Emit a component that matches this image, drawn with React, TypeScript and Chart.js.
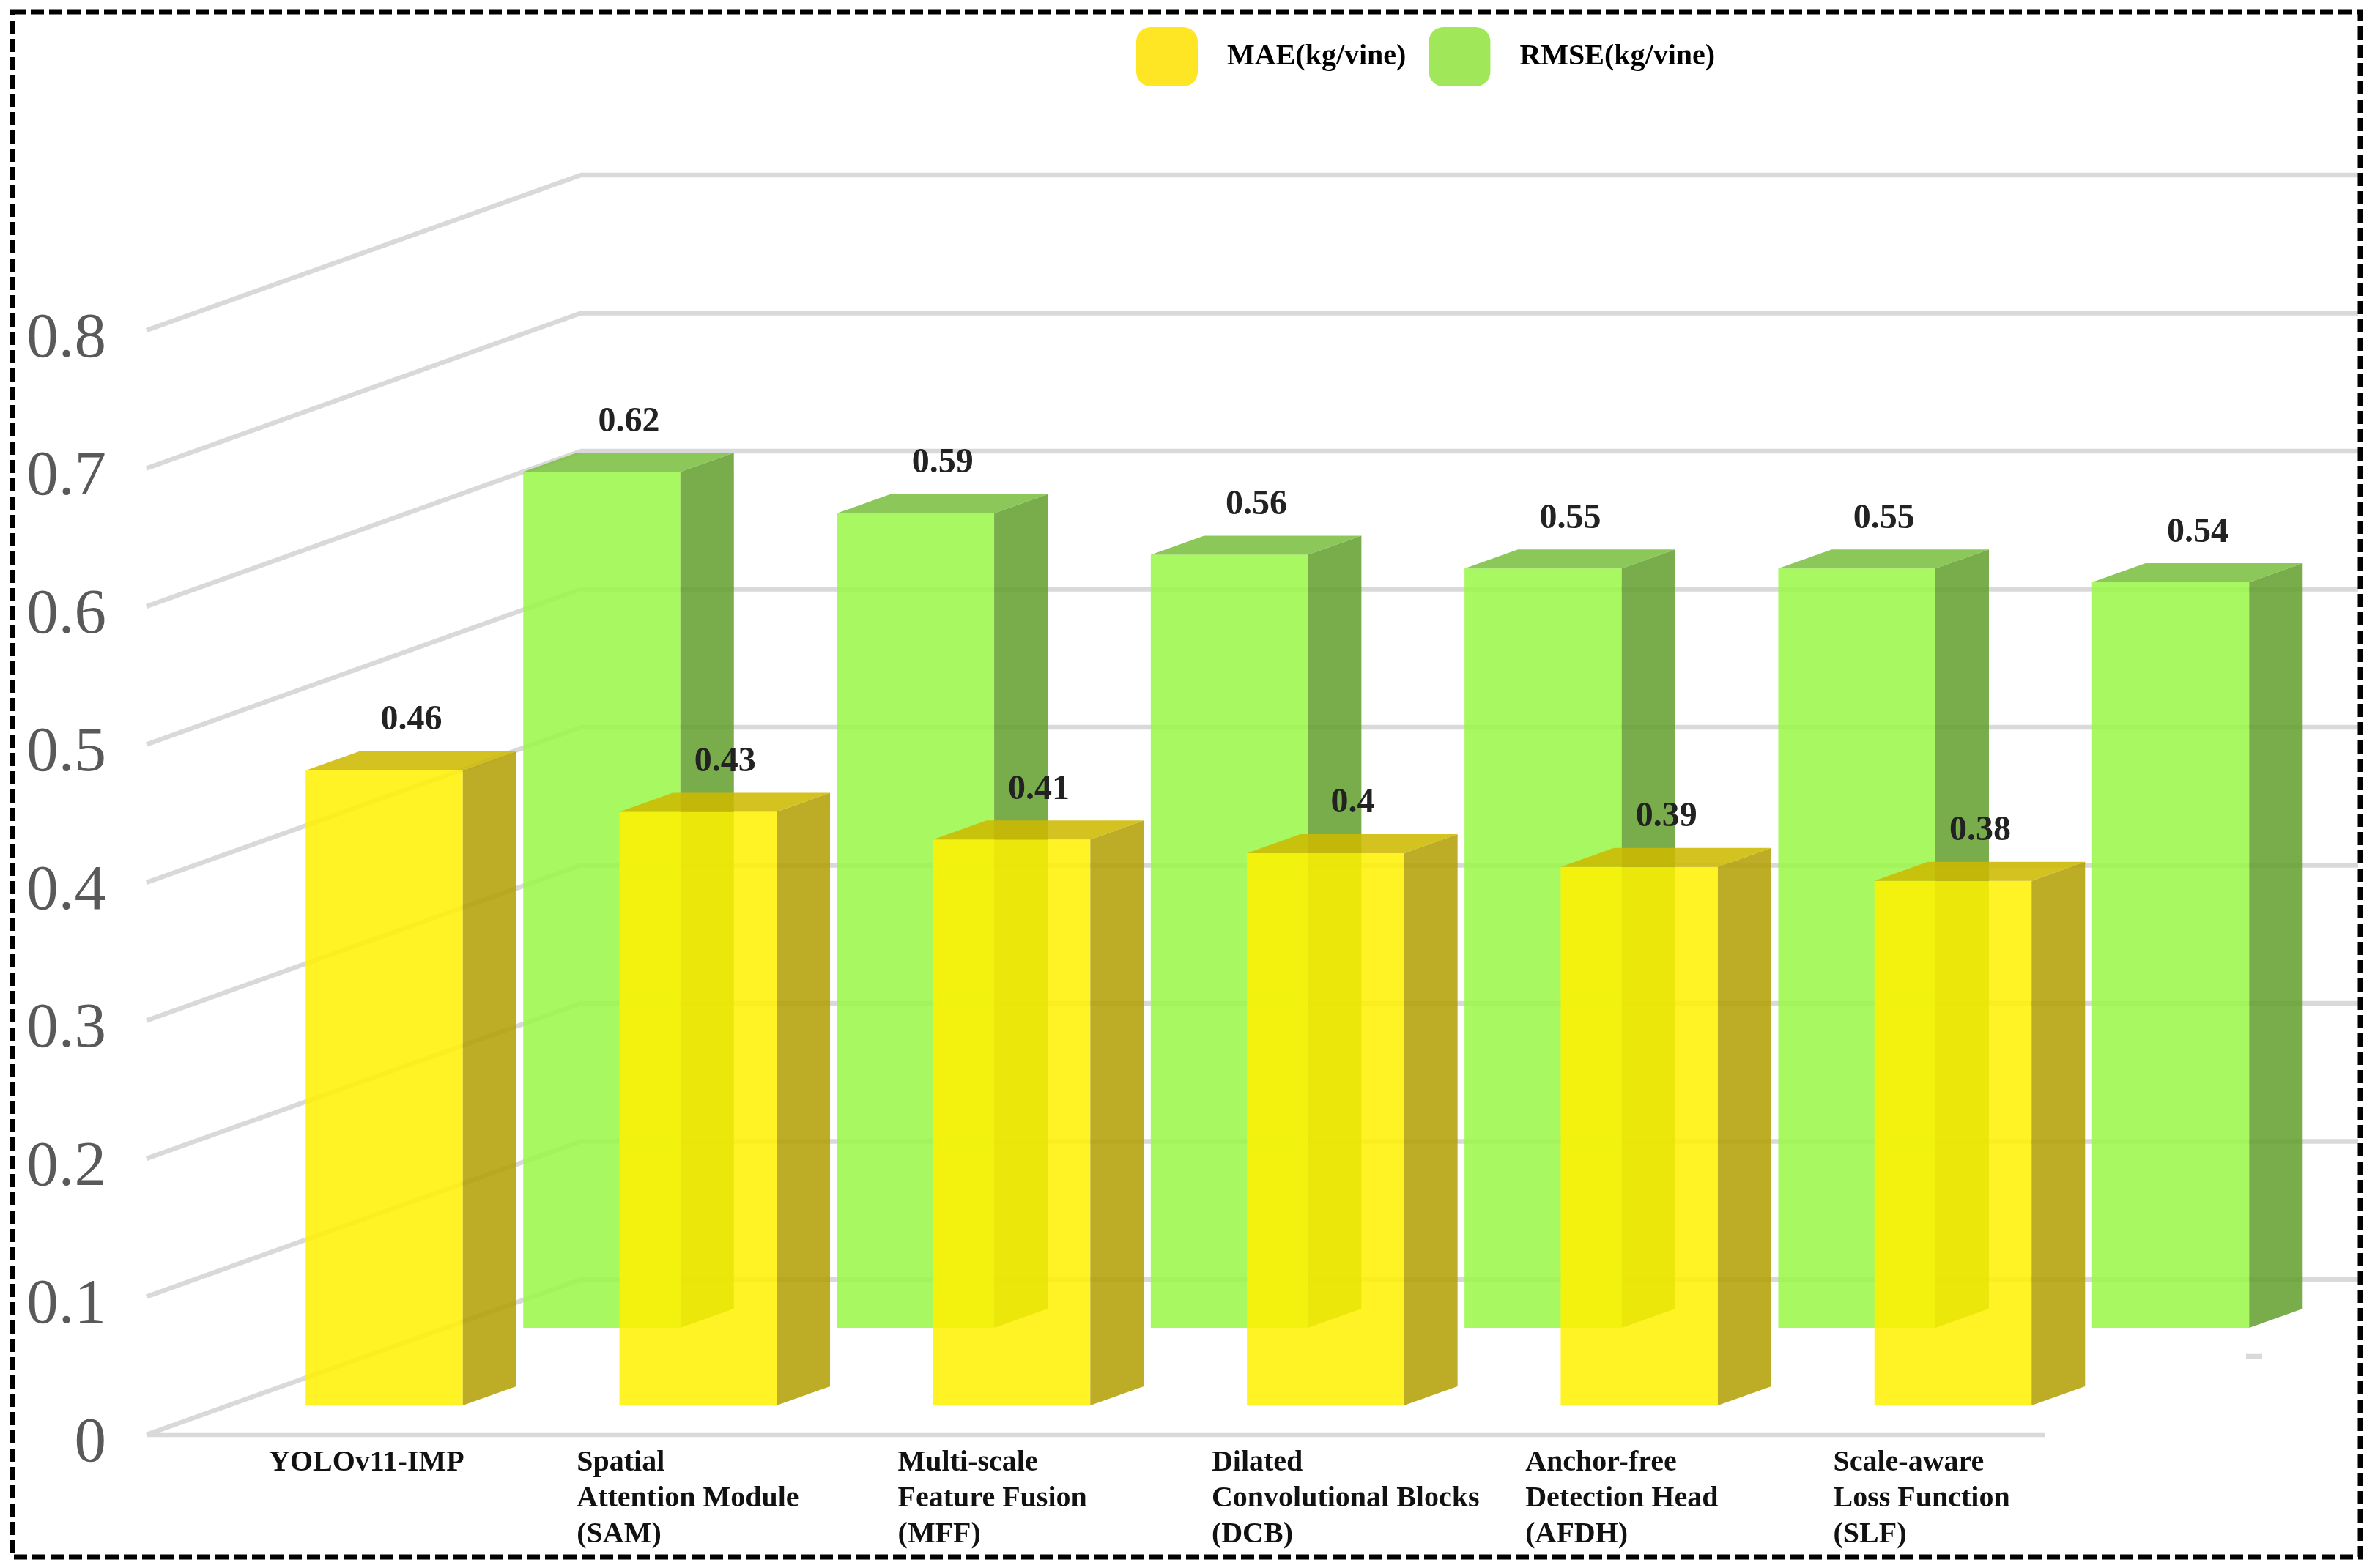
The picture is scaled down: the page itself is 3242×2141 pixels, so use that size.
import React, { useEffect, useRef } from "react";
import { Chart, registerables } from "chart.js";

Chart.register(...registerables);

const categories: string[][] = [
  ["YOLOv11-IMP"],
  ["Spatial", "Attention Module", "(SAM)"],
  ["Multi-scale", "Feature Fusion", "(MFF)"],
  ["Dilated", "Convolutional Blocks", "(DCB)"],
  ["Anchor-free", "Detection Head", "(AFDH)"],
  ["Scale-aware", "Loss Function", "(SLF)"],
];
const maeValues = [0.46, 0.43, 0.41, 0.4, 0.39, 0.38];
const rmseValues = [0.62, 0.59, 0.56, 0.55, 0.55, 0.54];
const yTickValues = [0, 0.1, 0.2, 0.3, 0.4, 0.5, 0.6, 0.7, 0.8];
const seriesNames = ["MAE(kg/vine)", "RMSE(kg/vine)"];
const legendColors = ["#FFE625", "#A0E85A"];
const frontColors = ["rgba(255,241,0,0.85)", "rgba(153,247,70,0.85)"];
const sideColors = ["rgba(177,158,0,0.85)", "rgba(98,157,43,0.85)"];
const topColors = ["rgba(205,185,0,0.88)", "rgba(120,190,60,0.85)"];

const W = 3242;
const H = 2141;
const AREA = { left: 458.85, right: 3028.65, top: 239, bottom: 1985 };
const X_AXIS_TOP = 1970;
const PX_PER_UNIT = 1885;
const DEPTH = { dx: 73, dy: 26 };
const WALL = { frontX: 200, backX: 793, dy: 212, endX: 3219, floorEndX: 2791 };
const GRID_COLOR = "#d9d9d9";
const SERIF = "'Liberation Serif', serif";
const LABEL_NUDGE = [0, -8, 2, 2, 2, -6];

const rangeForZero = (zeroPx: number) => {
  const min = -(AREA.bottom - zeroPx) / PX_PER_UNIT;
  return { min, max: min + (AREA.bottom - AREA.top) / PX_PER_UNIT };
};

const scene3d = {
  id: "scene3d",
  afterLayout(chart: any) {
    const l = chart.legend;
    l.left = 1520;
    l.right = 2520;
    l.top = 6;
    l.bottom = 128;
    // pin the plot rectangle to the reference's geometry
    Object.assign(chart.chartArea, {
      left: AREA.left,
      right: AREA.right,
      top: AREA.top,
      bottom: AREA.bottom,
      width: AREA.right - AREA.left,
      height: AREA.bottom - AREA.top,
    });
    for (const s of Object.values<any>(chart.scales)) {
      if (s.axis === "x") {
        s.left = AREA.left;
        s.right = AREA.right;
        s.width = AREA.right - AREA.left;
        s.top = X_AXIS_TOP;
        s.bottom = H;
        s.height = H - X_AXIS_TOP;
        const original = s.getLabelItems.bind(s);
        s.getLabelItems = (area: any) =>
          original(area).map((item: any, i: number) => {
            const [tx, ty] = item.options.translation;
            return {
              ...item,
              options: { ...item.options, translation: [tx + (LABEL_NUDGE[i] || 0), ty] },
            };
          });
      } else {
        s.left = 0;
        s.right = AREA.left;
        s.width = AREA.left;
        s.top = AREA.top;
        s.bottom = AREA.bottom;
        s.height = AREA.bottom - AREA.top;
      }
      s.configure();
    }
  },
  beforeDraw(chart: any) {
    const { ctx } = chart;
    ctx.save();
    ctx.fillStyle = "#fff";
    ctx.fillRect(0, 0, W, H);
    ctx.restore();
  },
  beforeDatasetsDraw(chart: any) {
    const { ctx } = chart;
    const s = chart.scales.yWall;
    ctx.save();
    ctx.strokeStyle = GRID_COLOR;
    ctx.lineWidth = 6.5;
    ctx.lineJoin = "round";
    for (const v of yTickValues) {
      const y = s.getPixelForValue(v);
      ctx.beginPath();
      ctx.moveTo(WALL.frontX, y);
      ctx.lineTo(WALL.backX, y - WALL.dy);
      ctx.lineTo(WALL.endX, y - WALL.dy);
      ctx.stroke();
    }
    const y0 = s.getPixelForValue(0);
    ctx.beginPath();
    ctx.moveTo(WALL.frontX, y0);
    ctx.lineTo(WALL.floorEndX, y0);
    ctx.stroke();
    // small leftover stub on the floor at the right
    ctx.beginPath();
    ctx.moveTo(3066, 1852);
    ctx.lineTo(3088, 1852);
    ctx.stroke();
    ctx.restore();
  },
  afterDatasetDraw(chart: any, args: any) {
    const { ctx } = chart;
    ctx.save();
    for (const bar of args.meta.data) {
      const left = bar.x - bar.width / 2;
      const right = bar.x + bar.width / 2;
      ctx.fillStyle = sideColors[args.index];
      ctx.beginPath();
      ctx.moveTo(right, bar.y);
      ctx.lineTo(right + DEPTH.dx, bar.y - DEPTH.dy);
      ctx.lineTo(right + DEPTH.dx, bar.base - DEPTH.dy);
      ctx.lineTo(right, bar.base);
      ctx.closePath();
      ctx.fill();
      ctx.fillStyle = topColors[args.index];
      ctx.beginPath();
      ctx.moveTo(left, bar.y);
      ctx.lineTo(left + DEPTH.dx, bar.y - DEPTH.dy);
      ctx.lineTo(right + DEPTH.dx, bar.y - DEPTH.dy);
      ctx.lineTo(right, bar.y);
      ctx.closePath();
      ctx.fill();
    }
    ctx.restore();
  },
  afterDatasetsDraw(chart: any) {
    const { ctx } = chart;
    ctx.save();
    ctx.font = `bold 48px ${SERIF}`;
    ctx.fillStyle = "#222";
    ctx.textAlign = "center";
    ctx.textBaseline = "middle";
    chart.data.datasets.forEach((ds: any, di: number) => {
      chart.getDatasetMeta(di).data.forEach((bar: any, i: number) => {
        ctx.fillText(String(ds.data[i]), bar.x + 37, bar.y - 68);
      });
    });
    ctx.restore();
  },
  afterDraw(chart: any) {
    const { ctx } = chart;
    ctx.save();
    ctx.strokeStyle = "#000";
    ctx.lineWidth = 7;
    ctx.setLineDash([18, 7]);
    ctx.strokeRect(17, 16, 3222 - 17, 2126 - 16);
    ctx.restore();
  },
};

export default function App() {
  const ref = useRef<HTMLCanvasElement>(null);
  useEffect(() => {
    const hidden = (zero: number) => ({
      type: "linear" as const,
      display: false,
      ...rangeForZero(zero),
    });
    const chart = new Chart(ref.current!, {
      type: "bar",
      data: {
        labels: categories,
        datasets: [
          { label: seriesNames[0], data: maeValues, backgroundColor: frontColors[0], yAxisID: "yMae" },
          { label: seriesNames[1], data: rmseValues, backgroundColor: frontColors[1], yAxisID: "yRmse" },
        ],
      },
      plugins: [scene3d],
      options: {
        animation: false,
        responsive: false,
        devicePixelRatio: 1,
        clip: false,
        categoryPercentage: 1.387,
        barPercentage: 0.7222,
        layout: { autoPadding: false },
        plugins: {
          tooltip: { enabled: false },
          legend: {
            position: "top",
            align: "start",
            labels: {
              boxWidth: 84,
              boxHeight: 81,
              padding: 31,
              color: "#111",
              useBorderRadius: true,
              borderRadius: 20,
              font: { family: SERIF, size: 40, weight: "bold" },
              generateLabels: () =>
                seriesNames.map((text, i) => ({
                  text: "  " + text,
                  fillStyle: legendColors[i],
                  strokeStyle: legendColors[i],
                  lineWidth: 0,
                  borderRadius: 20,
                  datasetIndex: i,
                })),
            },
          },
        },
        scales: {
          x: {
            type: "category",
            grid: { display: false, drawTicks: false },
            border: { display: false },
            ticks: {
              align: "start",
              labelOffset: -306,
              padding: 3,
              autoSkip: false,
              maxRotation: 0,
              minRotation: 0,
              color: "#111",
              font: { family: SERIF, size: 40, weight: "bold", lineHeight: 1.225 },
            },
          },
          y: {
            type: "linear",
            position: "left",
            ...rangeForZero(1972),
            grid: { display: false, drawTicks: false },
            border: { display: false },
            afterBuildTicks: (s: any) => {
              s.ticks = yTickValues.map((value) => ({ value }));
            },
            ticks: {
              padding: AREA.left - 145,
              color: "#595959",
              font: { family: SERIF, size: 87 },
              callback: (v: any) => String(v),
            },
          },
          yWall: hidden(1959),
          yMae: hidden(1919),
          yRmse: hidden(1813),
        },
      } as any,
    });
    return () => chart.destroy();
  }, []);
  return (
    <canvas
      ref={ref}
      width={W}
      height={H}
      style={{ position: "absolute", left: 0, top: 0, width: W, height: H, display: "block" }}
    />
  );
}
